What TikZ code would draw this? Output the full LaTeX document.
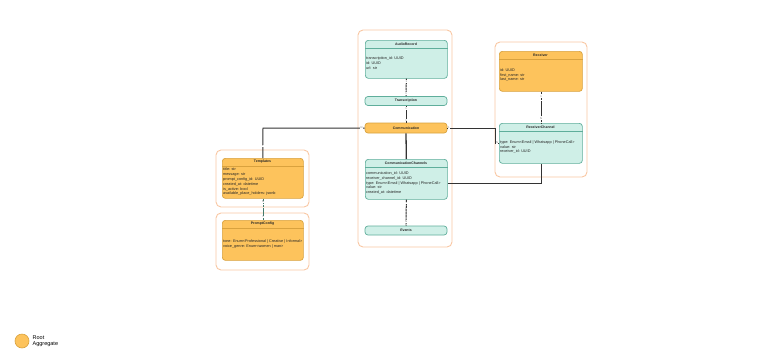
\documentclass[tikz,border=0pt]{standalone}
\usepackage{fontspec}
\setmainfont{Liberation Sans}
\usetikzlibrary{calc}
\definecolor{tealfill}{HTML}{CFEFE7}
\definecolor{tealdraw}{HTML}{5FAE9B}
\definecolor{orgfill}{HTML}{FDC35C}
\definecolor{orgdraw}{HTML}{D9A23E}
\definecolor{grpdraw}{HTML}{F9C7A3}
\definecolor{conn}{HTML}{333333}
\tikzset{
  tealbox/.style={draw=tealdraw, fill=tealfill, rounded corners=3pt, line width=0.7pt, inner sep=0pt},
  orgbox/.style={draw=orgdraw, fill=orgfill, rounded corners=3pt, line width=0.7pt, inner sep=0pt},
  tealboxline/.style={draw=tealdraw, line width=0.5pt},
  orgboxline/.style={draw=orgdraw, line width=0.5pt},
  grp/.style={draw=grpdraw, line width=0.9pt, rounded corners=5pt, fill=white},
  ttl/.style={font=\fontsize{3.5}{4}\selectfont\bfseries, text=black!85, inner sep=0pt},
  fld/.style={font=\fontsize{3.8}{4.8}\selectfont, text=black!85, align=left, inner sep=0pt},
  cn/.style={draw=conn, line width=1pt},
  cnd/.style={draw=conn, line width=1pt, dash pattern=on 2.5pt off 0.6pt},
  cnt/.style={draw=tealdraw!70!black, line width=1pt, dash pattern=on 2.5pt off 0.6pt},
  lbl/.style={font=\fontsize{2.6}{2.8}\selectfont, text=black!60, inner sep=0.4pt, fill=white},
}
% #1 name, #2 style, #3 left, #4 top, #5 width, #6 height, #7 title, #8 fields
\newcommand\entbox[8]{%
  \node[#2, anchor=north west, minimum width=#5pt, minimum height=#6pt] (#1) at (#3,#4) {};
  \node[ttl] at ($(#1.north west)+({#5/2},4)$) {#7};
  \draw[#2line] ($(#1.north west)+(0,8)$) -- ($(#1.north east)+(0,8)$);
  \node[fld, anchor=west] at ($(#1.north west)+(1,{(8+#6)/2})$) {#8};
}
\begin{document}
\begin{tikzpicture}[x=1pt,y=-1pt]
\useasboundingbox (0,0) rectangle (768,362);
% groups
\draw[grp] (358,30) rectangle (452,247);
\draw[grp] (495,42) rectangle (587,177);
\draw[grp] (216,150) rectangle (309,207);
\draw[grp] (216,213) rectangle (309,270);
% entities
\entbox{audio}{tealbox}{365}{40}{82}{38}{AudioRecord}{transcription\_id: UUID\\id: UUID\\url: str}
\node[tealbox, ttl, minimum width=82pt, minimum height=9pt] (trans) at (406,101) {Transcription};
\node[orgbox, ttl, minimum width=82pt, minimum height=10pt] (comm) at (406,128) {Communication};
\entbox{cchan}{tealbox}{365}{159}{82}{40}{CommunicationChannels}{communication\_id: UUID\\receiver\_channel\_id: UUID\\type: Enum<Email | Whatsapp | PhoneCall>\\value: str\\created\_at: datetime}
\node[tealbox, ttl, minimum width=82pt, minimum height=9pt] (events) at (406,230.5) {Events};
\entbox{recv}{orgbox}{499}{51}{83}{40}{Receiver}{id: UUID\\first\_name: str\\last\_name: str}
\entbox{rchan}{tealbox}{499}{123}{83}{40}{ReceiverChannel}{type: Enum<Email | Whatsapp | PhoneCall>\\value: str\\receiver\_id: UUID}
\entbox{tmpl}{orgbox}{222}{158}{81}{40}{Templates}{title: str\\message: str\\prompt\_config\_id: UUID\\created\_at: datetime\\is\_active: bool\\available\_place\_holders: jsonb}
\entbox{pcfg}{orgbox}{222}{220}{81}{40}{PromptConfig}{tone: Enum<Professional | Creative | Informal>\\voice\_genre: Enum<women | man>}
% connectors
\draw[cnd] (audio.south) -- node[lbl, pos=0.15]{1} node[lbl, pos=0.85]{1} (trans.north);
\draw[cn] (trans.south) -- node[lbl, pos=0.15]{1} node[lbl, pos=0.85]{1} (comm.north);
\draw[cn, line width=1.3pt] (comm.south) -- (cchan.north);
\draw[cnd] (cchan.south) -- node[lbl, pos=0.12]{1} node[lbl, pos=0.85]{N} (events.north);
\coordinate (c1) at (263,128);
\draw[cn] (comm.west) -- node[lbl, pos=0.03]{N} (c1) -- node[lbl, pos=0.6]{1} (tmpl.north);
\coordinate (c2) at (495,128);
\coordinate (c3) at (495,143);
\draw[cn] (comm.east) -- node[lbl, pos=0.03]{1} (c2) -- (c3) -- node[lbl, pos=0.5]{N} (rchan.west |- c3);
\coordinate (c4) at (541,183);
\draw[cn] (cchan.east |- c4) -- (c4) -- (rchan.south -| c4);
\draw[cnd] (recv.south -| c4) -- node[lbl, pos=0.15]{1} node[lbl, pos=0.85]{N} (rchan.north -| c4);
\draw[cnt] (tmpl.south -| c1) -- node[lbl, pos=0.15]{N} node[lbl, pos=0.85]{1} (pcfg.north -| c1);
% legend
\node[circle, draw=orgdraw, fill=orgfill, line width=0.6pt, minimum size=14pt, inner sep=0pt] (leg) at (22,341) {};
\node[font=\fontsize{5.5}{6.5}\selectfont, align=left, anchor=west, inner sep=0pt] (legt) at (32.5,341) {Root\\Aggregate};
\end{tikzpicture}
\end{document}
